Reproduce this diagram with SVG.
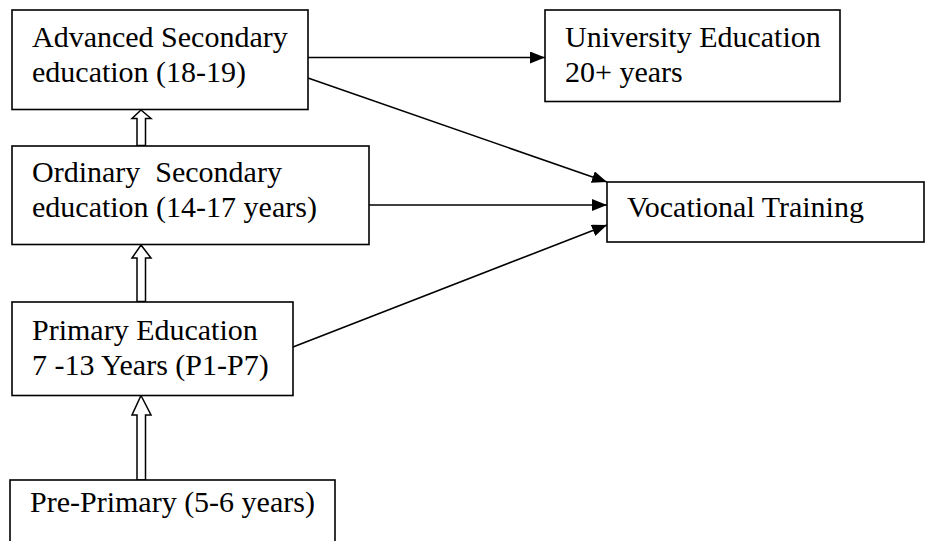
<svg xmlns="http://www.w3.org/2000/svg" width="927" height="541" viewBox="0 0 927 541">
<style>
.box{fill:#fff;stroke:#000;stroke-width:1.6}
.t{font-family:"Liberation Serif","Times New Roman",serif;font-size:30px;fill:#000}
.ln{stroke:#000;stroke-width:1.6;fill:none}
.ha{fill:#fff;stroke:#000;stroke-width:1.5;stroke-linejoin:miter}
</style>
<defs>
<marker id="ah" markerUnits="userSpaceOnUse" markerWidth="16" markerHeight="12" refX="15" refY="6" orient="auto">
<path d="M0,0 L15,6 L0,12 Z" fill="#000"/>
</marker>
</defs>
<g id="connectors">
<line class="ln" x1="308" y1="57.5" x2="545" y2="57.5" marker-end="url(#ah)"/>
<line class="ln" x1="308" y1="78" x2="607" y2="182" marker-end="url(#ah)"/>
<line class="ln" x1="369" y1="205" x2="607" y2="205" marker-end="url(#ah)"/>
<line class="ln" x1="293" y1="347" x2="607" y2="225" marker-end="url(#ah)"/>
<path class="ha" d="M141,110 L151,118.5 L145.5,118.5 L145.5,145.5 L137,145.5 L137,118.5 L132,118.5 Z"/>
<path class="ha" d="M141,245 L151,258 L145.5,258 L145.5,301.5 L137,301.5 L137,258 L132,258 Z"/>
<path class="ha" d="M141,395.5 L151,415 L145.5,415 L145.5,480 L137,480 L137,415 L132,415 Z"/>
</g>
<g id="advanced">
<rect class="box" x="12" y="10" width="296" height="99.5"/>
<text class="t" x="32" y="47">Advanced Secondary</text>
<text class="t" x="32" y="82">education (18-19)</text>
</g>
<g id="university">
<rect class="box" x="545" y="10" width="295" height="91.5"/>
<text class="t" x="565" y="46.5">University Education</text>
<text class="t" x="565" y="81.5">20+ years</text>
</g>
<g id="ordinary">
<rect class="box" x="12" y="146" width="357" height="98.5"/>
<text class="t" x="32" y="182" xml:space="preserve">Ordinary  Secondary</text>
<text class="t" x="32" y="217">education (14-17 years)</text>
</g>
<g id="vocational">
<rect class="box" x="607" y="182" width="317" height="60"/>
<text class="t" x="627" y="216.5">Vocational Training</text>
</g>
<g id="primary">
<rect class="box" x="12" y="302" width="281" height="93.5"/>
<text class="t" x="32" y="340">Primary Education</text>
<text class="t" x="32" y="375">7 -13 Years (P1-P7)</text>
</g>
<g id="preprimary">
<rect class="box" x="10" y="480" width="325" height="70"/>
<text class="t" x="30" y="512">Pre-Primary (5-6 years)</text>
</g>
</svg>
